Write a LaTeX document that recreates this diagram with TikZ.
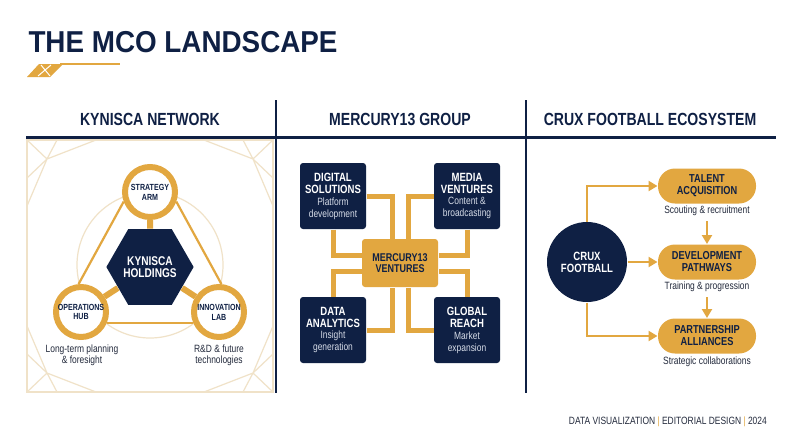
\documentclass[tikz,border=0pt]{standalone}
\usepackage{fontspec}
\setmainfont{Liberation Sans}
\newfontfamily\condfont[FakeStretch=0.8]{Liberation Sans}
\newfontfamily\titlefont[FakeStretch=0.92]{Liberation Sans}
\usetikzlibrary{shapes.geometric,arrows.meta}
\definecolor{navy}{RGB}{15,32,68}
\definecolor{gold}{RGB}{226,167,64}
\definecolor{sand}{RGB}{240,226,200}
\definecolor{mist}{RGB}{214,220,232}
\definecolor{slate}{RGB}{35,42,60}
\newlength{\pxu}\setlength{\pxu}{0.025cm}
\newcommand{\subline}[1]{{\color{mist}\fontsize{7.5}{8.5}\selectfont #1}}

\begin{document}
\begin{tikzpicture}[x=0.025cm, y=-0.025cm, line width=1\pxu,
  ring/.style={circle, draw=gold, line width=6\pxu, fill=white, minimum size=50\pxu, inner sep=0pt,
    align=center, text=navy, font=\condfont\bfseries\fontsize{6.3}{7}\selectfont},
  hub/.style={regular polygon, regular polygon sides=6, fill=navy, minimum size=83\pxu, inner sep=0pt,
    align=center, text=white, font=\condfont\bfseries\fontsize{9}{9}\selectfont},
  spoke/.style={draw=gold, line width=6\pxu},
  rim/.style={draw=gold, line width=2.2\pxu},
  deco/.style={draw=sand, line width=1.2\pxu},
  note/.style={align=center, text=slate, font=\condfont\fontsize{7.5}{8}\selectfont},
  unit/.style={rectangle, rounded corners=3\pxu, fill=navy, minimum width=66\pxu, minimum height=66\pxu,
    align=center, text=white, font=\condfont\fontsize{8.5}{8.5}\selectfont},
  core/.style={rectangle, rounded corners=3\pxu, fill=gold, minimum width=76\pxu, minimum height=48\pxu,
    align=center, text=navy, font=\condfont\bfseries\fontsize{8}{8}\selectfont},
  link/.style={draw=gold, line width=5\pxu},
  club/.style={circle, fill=navy, minimum size=80\pxu, inner sep=0pt,
    align=center, text=white, font=\condfont\bfseries\fontsize{8.5}{8.5}\selectfont},
  pill/.style={rectangle, rounded corners=17\pxu, fill=gold, minimum width=98\pxu, minimum height=35\pxu,
    align=center, text=navy, font=\condfont\bfseries\fontsize{8.2}{8.5}\selectfont},
  flow/.style={draw=gold, line width=2.2\pxu, -{Triangle[length=6.4pt, width=7.1pt]}},
  head/.style={anchor=base, text=navy, font=\condfont\bfseries\fontsize{12.5}{14}\selectfont}]
  \fill[white] (0,0) rectangle (800,447);
  \useasboundingbox (0,0) rectangle (800,447);

  % title and mark
  \node[anchor=base west, inner sep=0pt, text=navy, font=\titlefont\bfseries\fontsize{21.5}{24}\selectfont] (title) at (28,52) {THE MCO LANDSCAPE};
  \draw[gold, line width=1.2\pxu] (60,64) -- (120,64);
  \fill[gold] (39,64) -- (63,64) -- (50,77) -- (27,77) -- cycle;
  \draw[white] (41,65) -- (50,76) (51,65) -- (38,76);

  % column heads and rules
  \node[head] (kn) at (150,125) {KYNISCA NETWORK};
  \node[head] (mg) at (400,125) {MERCURY13 GROUP};
  \node[head] (ce) at (650,125) {CRUX FOOTBALL ECOSYSTEM};
  \draw[navy, line width=3\pxu] (26,137) -- (776,137);
  \foreach \x in {276,526}
    \draw[navy, line width=2\pxu] (\x,100) -- (\x,393);

  % kynisca network: frame, corner lines, halo
  \draw[deco] (27,140) rectangle (273,392);
  \foreach \cx/\cy/\sx/\sy in {27/140/1/1, 273/140/-1/1, 27/392/1/-1, 273/392/-1/-1}{
    \begin{scope}[shift={(\cx,\cy)}, xscale=\sx, yscale=\sy]
      \draw[deco] (0,0) -- (20,19) -- (69,0) (20,19) -- (30,0) (20,19) -- (0,38) (20,19) -- (0,66);
    \end{scope}
  }
  \draw[deco] (150,265) circle[radius=73];

  \node[hub] (kh) at (150,267) {KYNISCA\\HOLDINGS};
  \node[ring] (sa) at (150,192) {STRATEGY\\ARM};
  \node[ring] (oh) at (81,312) {OPERATIONS\\HUB};
  \node[ring] (il) at (219,312) {INNOVATION\\LAB};
  \foreach \n in {sa,oh,il}
    \draw[spoke] (kh) -- (\n);
  \draw[rim] (sa.200) -- (oh.95);
  \draw[rim] (sa.-20) -- (il.85);
  \draw[rim] (oh.-24) -- (il.204);
  \node[note] (ohn) at (82,355) {Long-term planning\\\& foresight};
  \node[note] (iln) at (219,355) {R\&D \& future\\technologies};

  % mercury13 group
  \node[core] (mv) at (400,263) {MERCURY13\\VENTURES};
  \node[unit] (ds) at (333,196) {\textbf{DIGITAL}\\\textbf{SOLUTIONS}\\\subline{Platform}\\\subline{development}};
  \node[unit] (md) at (467,196) {\textbf{MEDIA}\\\textbf{VENTURES}\\\subline{Content \&}\\\subline{broadcasting}};
  \node[unit] (da) at (333,330) {\textbf{DATA}\\\textbf{ANALYTICS}\\\subline{Insight}\\\subline{generation}};
  \node[unit] (gr) at (467,330) {\textbf{GLOBAL}\\\textbf{REACH}\\\subline{Market}\\\subline{expansion}};
  \draw[link] (ds.east) -| ([xshift=-8\pxu]mv.north);
  \draw[link] (ds.south) |- ([yshift=8\pxu]mv.west);
  \draw[link] (md.west) -| ([xshift=8\pxu]mv.north);
  \draw[link] (md.south) |- ([yshift=8\pxu]mv.east);
  \draw[link] (da.east) -| ([xshift=-8\pxu]mv.south);
  \draw[link] (da.north) |- ([yshift=-8\pxu]mv.west);
  \draw[link] (gr.west) -| ([xshift=8\pxu]mv.south);
  \draw[link] (gr.north) |- ([yshift=-8\pxu]mv.east);

  % crux football ecosystem
  \node[club] (cf) at (587,262) {CRUX\\FOOTBALL};
  \node[pill] (ta) at (707,186) {TALENT\\ACQUISITION};
  \node[pill] (dp) at (707,262) {DEVELOPMENT\\PATHWAYS};
  \node[pill] (pa) at (707,336) {PARTNERSHIP\\ALLIANCES};
  \node[note] (tan) at (707,211) {Scouting \& recruitment};
  \node[note] (dpn) at (707,287) {Training \& progression};
  \node[note] (pan) at (707,362) {Strategic collaborations};
  \draw[flow] (cf.north) |- (ta.west);
  \draw[flow] (cf.east) -- (dp.west);
  \draw[flow] (cf.south) |- (pa.west);
  \draw[flow] (tan.south) -- (dp.north);
  \draw[flow] (dpn.south) -- (pa.north);

  % footer
  \node[anchor=base east, text=slate, font=\condfont\fontsize{7.5}{9}\selectfont] (foot) at (772,424)
    {DATA VISUALIZATION {\color{gold}|} EDITORIAL DESIGN {\color{gold}|} 2024};
\end{tikzpicture}
\end{document}
